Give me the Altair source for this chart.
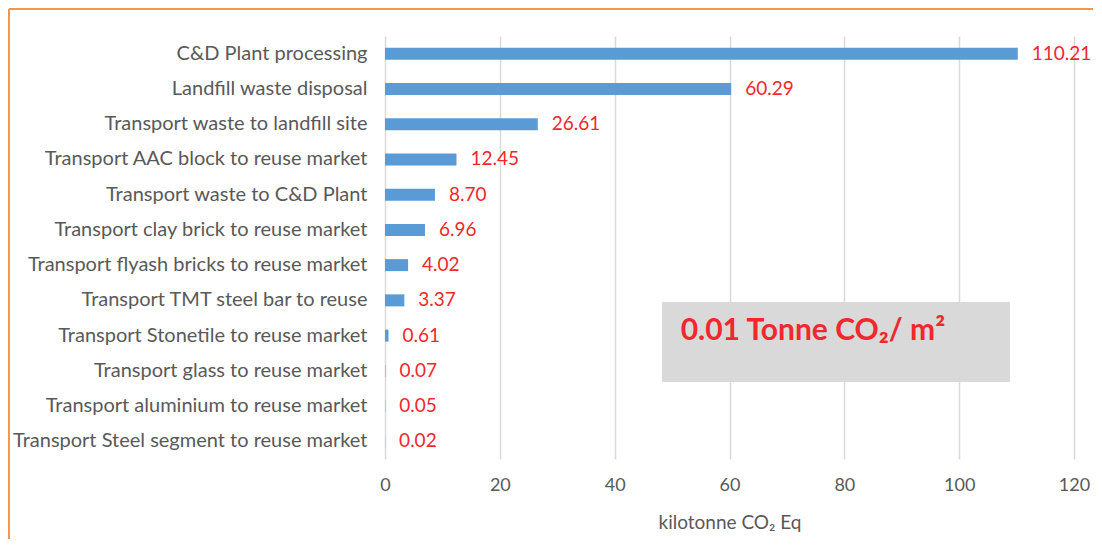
import altair as alt
import pandas as pd

categories = [
    "C&D Plant processing",
    "Landfill waste disposal",
    "Transport waste to landfill site",
    "Transport AAC block to reuse market",
    "Transport waste to C&D Plant",
    "Transport clay brick to reuse market",
    "Transport flyash bricks to reuse market",
    "Transport TMT steel bar to reuse",
    "Transport Stonetile to reuse market",
    "Transport glass to reuse market",
    "Transport aluminium to reuse market",
    "Transport Steel segment to reuse market",
]
values = [110.21, 60.29, 26.61, 12.45, 8.70, 6.96, 4.02, 3.37, 0.61, 0.07, 0.05, 0.02]
x_ticks = [0, 20, 40, 60, 80, 100, 120]
annotation_text = "0.01 Tonne CO\u2082/ m\u00b2"
axis_title = "kilotonne CO\u2082  Eq"

FONT = "Lato"
df = pd.DataFrame({"cat": categories, "val": values})
df["lbl"] = [f"{v:.2f}" for v in values]

x_scale = alt.Scale(domain=[0, 120], nice=False)
y_enc = alt.Y("cat:N", sort=categories,
              scale=alt.Scale(paddingInner=0, paddingOuter=0),
              axis=alt.Axis(title=None, labelFontSize=20, labelColor="#595959",
                            labelFont=FONT, labelPadding=18, ticks=False,
                            domain=False, labelLimit=500))

base = alt.Chart(df)

bars = base.mark_bar(size=12, color="#5B9BD5").encode(
    x=alt.X("val:Q", scale=x_scale,
            axis=alt.Axis(values=x_ticks, title=axis_title, titleFont=FONT,
                          titleFontSize=19, titleFontWeight="normal",
                          titleColor="#595959", titlePadding=19,
                          labelFont=FONT, labelFontSize=18, labelColor="#595959",
                          labelPadding=17, labelFlush=False, ticks=False,
                          domain=False, grid=True, gridColor="#D9D9D9",
                          gridWidth=1.5)),
    y=y_enc,
)

labels = base.mark_text(align="left", baseline="middle", dx=14, fontSize=19,
                        font=FONT, color="#F0282D").encode(
    x=alt.X("val:Q", scale=x_scale),
    y=alt.Y("cat:N", sort=categories),
    text="lbl:N",
)

one = alt.Chart(pd.DataFrame({"x1": [48.24], "x2": [108.85], "tx": [51.5],
                              "t": [annotation_text]}))
box = one.mark_rect(color="#D9D9D9").encode(
    x=alt.X("x1:Q", scale=x_scale), x2="x2:Q",
    y=alt.value(266), y2=alt.value(346),
)
box_text = one.mark_text(align="left", baseline="middle", fontSize=30,
                         fontWeight="bold", font=FONT, color="#F0282D").encode(
    x=alt.X("tx:Q", scale=x_scale), y=alt.value(295), text="t:N",
)

border_top = one.mark_rule(color="#F79646", strokeWidth=2).encode(
    x=alt.value(-376), x2=alt.value(708), y=alt.value(-27))
border_left = one.mark_rule(color="#F79646", strokeWidth=2).encode(
    x=alt.value(-376), y=alt.value(-27), y2=alt.value(503))

chart = alt.layer(bars, labels, box, box_text, border_top, border_left).properties(
    width=689, height=423, padding=0, background="white"
).configure_view(stroke=None)

chart.save("out.html", embed_options={"renderer": "svg", "actions": False})
